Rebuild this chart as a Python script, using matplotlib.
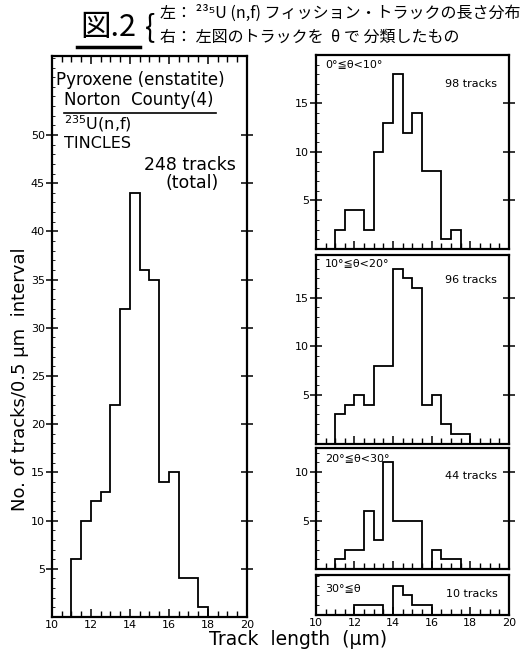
import numpy as np
import matplotlib.pyplot as plt
from matplotlib.ticker import MultipleLocator

plt.rcParams['font.family'] = ['DejaVu Sans', 'Noto Sans CJK JP']

# bin edges 10..20 um, 0.5 um wide
edges = np.arange(10, 20.01, 0.5)

total = [0, 0, 6, 10, 12, 13, 22, 32, 44, 36, 35, 14, 15, 4, 4, 1, 0, 0, 0, 0]
th_0_10 = [0, 0, 2, 4, 4, 2, 10, 13, 18, 12, 14, 8, 8, 1, 2, 0, 0, 0, 0, 0]
th_10_20 = [0, 0, 3, 4, 5, 4, 8, 8, 18, 17, 16, 4, 5, 2, 1, 1, 0, 0, 0, 0]
th_20_30 = [0, 0, 1, 2, 2, 6, 3, 11, 5, 5, 5, 0, 2, 1, 1, 0, 0, 0, 0, 0]
th_30 = [0, 0, 0, 0, 1, 1, 1, 0, 3, 2, 1, 1, 0, 0, 0, 0, 0, 0, 0, 0]

panel_labels = ['0°≦θ<10°', '10°≦θ<20°', '20°≦θ<30°', '30°≦θ']
panel_counts = ['98 tracks', '96 tracks', '44 tracks', '10 tracks']

LW = 1.3
fig = plt.figure(figsize=(5.23, 6.61), dpi=100)


def style(ax, ymax, yticks, top_ticks=False, xlabels=True):
    ax.set_xlim(10, 20)
    ax.set_ylim(0, ymax)
    for s in ax.spines.values():
        s.set_linewidth(1.6)
    ax.set_xticks(range(10, 21, 2))
    ax.xaxis.set_minor_locator(MultipleLocator(0.5))
    ax.tick_params(axis='x', which='major', direction='in', length=6, width=1.1,
                   top=top_ticks, labelsize=8, pad=2, labelbottom=xlabels)
    ax.tick_params(axis='x', which='minor', direction='in', length=4, width=1.0,
                   top=top_ticks)
    ax.set_yticks(yticks)
    ax.yaxis.set_minor_locator(MultipleLocator(1))
    ax.tick_params(axis='y', which='major', direction='inout', length=8, width=1.1,
                   right=True, labelsize=8, pad=1)
    ax.tick_params(axis='y', which='minor', direction='in', length=2, width=0.6)


# left: all tracks
axl = fig.add_axes([0.0994, 0.0666, 0.3728, 0.8487])
axl.stairs(total, edges, color='black', lw=LW)
style(axl, 58.2, range(5, 51, 5), top_ticks=True)
axl.text(0.02, 0.957, 'Pyroxene (enstatite)', transform=axl.transAxes,
         fontsize=12, va='center')
axl.text(0.06, 0.921, 'Norton  County(4)', transform=axl.transAxes,
         fontsize=12, va='center')
axl.plot([0.06, 0.84], [0.899, 0.899], color='black', lw=1.2, transform=axl.transAxes)
axl.text(0.06, 0.879, r'$^{235}$U(n,f)', transform=axl.transAxes,
         fontsize=11.5, va='center')
axl.text(0.06, 0.844, 'TINCLES', transform=axl.transAxes, fontsize=11.5, va='center')
axl.text(0.71, 0.806, '248 tracks', transform=axl.transAxes, fontsize=12.5,
         va='center', ha='center')
axl.text(0.72, 0.774, '(total)', transform=axl.transAxes, fontsize=12.5,
         va='center', ha='center')

# right: split by theta
boxes = [[0.604, 0.6233, 0.369, 0.2935],
         [0.604, 0.3290, 0.369, 0.2852],
         [0.604, 0.1392, 0.369, 0.1831],
         [0.604, 0.0696, 0.369, 0.0605]]
series = [th_0_10, th_10_20, th_20_30, th_30]
ymaxs = [20, 19.4, 12.5, 4.1]
yticks = [[5, 10, 15], [5, 10, 15], [5, 10], []]
lab_y = [0.954, 0.958, 0.917, 0.675]
cnt_y = [0.85, 0.867, 0.77, 0.525]

for i in range(4):
    ax = fig.add_axes(boxes[i])
    ax.stairs(series[i], edges, color='black', lw=LW)
    style(ax, ymaxs[i], yticks[i], xlabels=(i == 3))
    ax.text(0.047, lab_y[i], panel_labels[i], transform=ax.transAxes,
            fontsize=8, va='center')
    ax.text(0.94, cnt_y[i], panel_counts[i], transform=ax.transAxes,
            fontsize=8, va='center', ha='right')

fig.text(0.038, 0.427, 'No. of tracks/0.5 μm  interval', fontsize=13,
         rotation=90, ha='center', va='center')
fig.text(0.57, 0.032, 'Track  length  (μm)', fontsize=13.5, ha='center', va='center')

# handwritten caption at the top
jp = ['Noto Sans CJK JP', 'DejaVu Sans']
fig.text(0.207, 0.958, '図.2', fontsize=22, ha='center', va='center', family=jp)
fig.add_artist(plt.Line2D([0.147, 0.268], [0.929, 0.929], color='black', lw=2.5,
                          transform=fig.transFigure))
fig.text(0.286, 0.958, '{', fontsize=22, ha='center', va='center', family=jp)
fig.text(0.306, 0.980, '左： ²³⁵U (n,f) フィッション・トラックの長さ分布',
         fontsize=11.5, va='center', family=jp)
fig.text(0.306, 0.944, '右： 左図のトラックを  θ で 分類したもの',
         fontsize=11.5, va='center', family=jp)

fig.savefig('out.png', dpi=100)
